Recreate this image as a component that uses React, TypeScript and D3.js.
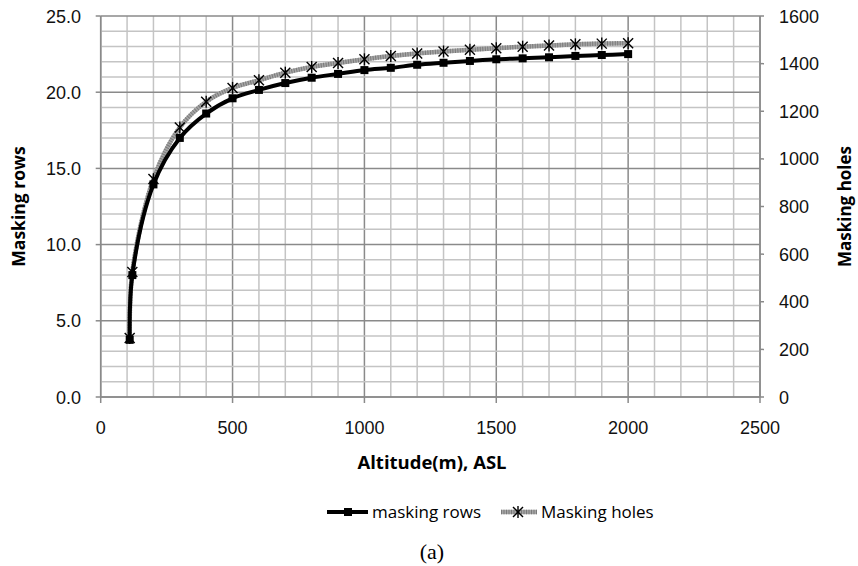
import React from "react";
import * as d3 from "d3";

const altitudes = [110, 120, 200, 300, 400, 500, 600, 700, 800, 900, 1000, 1100, 1200, 1300, 1400, 1500, 1600, 1700, 1800, 1900, 2000];
const maskingRows = [3.75, 8.0, 13.95, 17.0, 18.6, 19.6, 20.15, 20.6, 20.95, 21.2, 21.45, 21.6, 21.8, 21.93, 22.05, 22.16, 22.22, 22.29, 22.38, 22.44, 22.5];
const maskingHoles = [248, 525, 915, 1132, 1240, 1298, 1330, 1362, 1386, 1403, 1418, 1432, 1443, 1451, 1458, 1465, 1471, 1476, 1481, 1484, 1486];
const xTicks = [0, 500, 1000, 1500, 2000, 2500];
const yLeftTicks = [0, 5, 10, 15, 20, 25];
const yRightTicks = [0, 200, 400, 600, 800, 1000, 1200, 1400, 1600];

const W = 858, H = 566;
const L = 100.7, R = 760, T = 16, B = 397;

export default function App() {
  const x = d3.scaleLinear().domain([0, 2500]).range([L, R]);
  const yL = d3.scaleLinear().domain([0, 25]).range([B, T]);
  const yR = d3.scaleLinear().domain([0, 1600]).range([B, T]);

  const minorX = d3.range(0, 2501, 100);
  const minorY = d3.range(0, 25.01, 1);

  const rowsLine = d3.line<number>().x((_, i) => x(altitudes[i])).y((d) => yL(d)).curve(d3.curveCatmullRom.alpha(0.5));
  const holesLine = d3.line<number>().x((_, i) => x(altitudes[i])).y((d) => yR(d)).curve(d3.curveCatmullRom.alpha(0.5));

  const tickFont = "'Liberation Sans', Arial, sans-serif";
  const titleFont = "'Open Sans', Lato, sans-serif";

  const star = (cx: number, cy: number, k: string) => (
    <g key={k} stroke="#000" strokeWidth={1.4}>
      <line x1={cx - 5} y1={cy - 5} x2={cx + 5} y2={cy + 5} />
      <line x1={cx - 5} y1={cy + 5} x2={cx + 5} y2={cy - 5} />
      <line x1={cx} y1={cy - 6} x2={cx} y2={cy + 6} />
    </g>
  );

  return (
    <svg width={W} height={H} style={{ position: "absolute", left: 0, top: 0, background: "#fff" }}>
      <rect x={0} y={0} width={W} height={H} fill="#fff" />
      {minorX.map((v) => (
        <line key={"mx" + v} x1={x(v)} x2={x(v)} y1={T} y2={B} stroke={v % 500 === 0 ? "#8a8a8a" : "#c4c4c4"} strokeWidth={1.5} />
      ))}
      {minorY.map((v) => (
        <line key={"my" + v} x1={L} x2={R} y1={yL(v)} y2={yL(v)} stroke={v % 5 === 0 ? "#8a8a8a" : "#c4c4c4"} strokeWidth={1.5} />
      ))}
      <line x1={L} x2={L} y1={T} y2={B} stroke="#8a8a8a" strokeWidth={1.5} />
      <line x1={R} x2={R} y1={T} y2={B} stroke="#8a8a8a" strokeWidth={1.5} />
      <line x1={L} x2={R} y1={B} y2={B} stroke="#8a8a8a" strokeWidth={1.5} />
      {xTicks.map((v) => (
        <g key={"xt" + v}>
          <line x1={x(v)} x2={x(v)} y1={B} y2={B + 6} stroke="#8a8a8a" strokeWidth={1.5} />
          <text x={x(v)} y={434} textAnchor="middle" fontFamily={tickFont} fontSize={18} fill="#111">{v}</text>
        </g>
      ))}
      {yLeftTicks.map((v) => (
        <g key={"yl" + v}>
          <line x1={L - 5} x2={L} y1={yL(v)} y2={yL(v)} stroke="#8a8a8a" strokeWidth={1.5} />
          <text x={81} y={yL(v) + 6.5} textAnchor="end" fontFamily={tickFont} fontSize={18} fill="#111">{v.toFixed(1)}</text>
        </g>
      ))}
      {yRightTicks.map((v) => (
        <g key={"yr" + v}>
          <line x1={R} x2={R + 4} y1={yR(v)} y2={yR(v)} stroke="#8a8a8a" strokeWidth={1.5} />
          <text x={779} y={yR(v) + 6.5} textAnchor="start" fontFamily={tickFont} fontSize={18} fill="#111">{v}</text>
        </g>
      ))}
      <path d={holesLine(maskingHoles) || ""} fill="none" stroke="#a6a6a6" strokeWidth={4.5} />
      <path d={holesLine(maskingHoles) || ""} fill="none" stroke="#7a7a7a" strokeWidth={4.5} strokeDasharray="1 1.5" />
      <path d={rowsLine(maskingRows) || ""} fill="none" stroke="#000" strokeWidth={4} />
      {maskingRows.map((v, i) => (
        <rect key={"sq" + i} x={x(altitudes[i]) - 4} y={yL(v) - 4} width={8} height={8} fill="#000" />
      ))}
      {maskingHoles.map((v, i) => star(x(altitudes[i]), yR(v), "st" + i))}
      <text transform={`translate(25,${(T + B) / 2}) rotate(-90)`} textAnchor="middle" fontFamily={titleFont} fontWeight="bold" fontSize={17.5} fill="#000">Masking rows</text>
      <text transform={`translate(851,${(T + B) / 2}) rotate(-90)`} textAnchor="middle" fontFamily={titleFont} fontWeight="bold" fontSize={17} fill="#000">Masking holes</text>
      <text x={432} y={469} textAnchor="middle" fontFamily={titleFont} fontWeight="bold" fontSize={18.5} fill="#000">Altitude(m), ASL</text>
      <line x1={327} x2={368} y1={512} y2={512} stroke="#000" strokeWidth={4} />
      <rect x={344} y={508} width={8} height={8} fill="#000" />
      <text x={372} y={518} fontFamily={titleFont} fontSize={17} fill="#000">masking rows</text>
      <line x1={501} x2={537} y1={512} y2={512} stroke="#a6a6a6" strokeWidth={4.5} />
      <line x1={501} x2={537} y1={512} y2={512} stroke="#7a7a7a" strokeWidth={4.5} strokeDasharray="1 1.5" />
      {star(518, 512, "legstar")}
      <text x={541} y={518} fontFamily={titleFont} fontSize={17} fill="#000">Masking holes</text>
      <text x={432} y={559} textAnchor="middle" fontFamily="'Liberation Serif', 'Times New Roman', serif" fontSize={22} fill="#000">(a)</text>
    </svg>
  );
}
